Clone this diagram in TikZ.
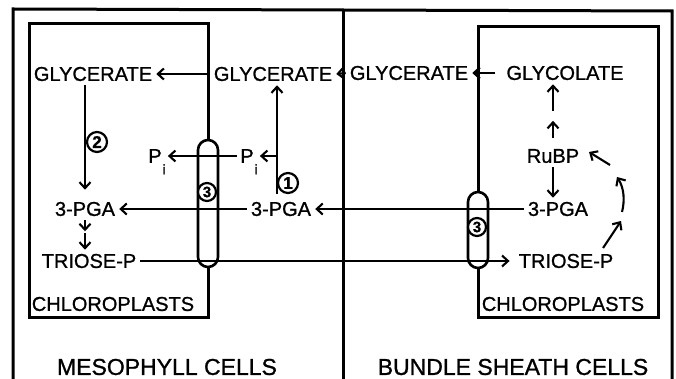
\documentclass[tikz,border=0pt]{standalone}
\usepackage{fontspec}
\setmainfont{Liberation Sans}
\newfontfamily\lett{Liberation Sans}[FakeBold=1.0]
\usetikzlibrary{arrows.meta,calc}
\begin{document}
\begin{tikzpicture}[x=1pt,y=-1pt,
  lbl/.style={font=\lett\fontsize{20}{22}\selectfont, inner sep=4pt},
  sub/.style={font=\lett\fontsize{14}{14}\selectfont, inner sep=0pt, anchor=north west},
  big/.style={font=\lett\fontsize{23}{25}\selectfont, inner sep=2pt},
  arr/.style={line width=2.1pt,-{Straight Barb[length=6pt,width=11pt,line width=2.1pt]}},
  wall/.style={line width=3pt},
  num/.style={circle, draw, line width=2.2pt, fill=white, minimum size=20pt, inner sep=0pt, font=\lett\fontsize{17}{17}\selectfont\bfseries},
  capsule/.style={draw, line width=2.6pt, rounded corners=10pt, minimum width=20pt, fill=white, inner sep=0pt}]
\useasboundingbox (0,0) rectangle (676,379);
% outer frame
\draw[wall] (13,379) -- (13,9) -- (672,11) -- (672,379);
\draw[wall] (343,379) -- (343,10);
% transporters
\node[capsule, minimum height=127pt] (capL) at (208,203.5) {};
\node[capsule, minimum height=76pt] (capR) at (478,230) {};
% chloroplasts
\draw[wall] (capL.north) -- (208,24) -- (29,24) -- (29,317) -- (208,317) -- (capL.south);
\draw[wall] (capR.north) -- (478,27) -- (658,27) -- (658,317) -- (478,317) -- (capR.south);
% texts
\node[lbl] (glyL) at (93,74) {GLYCERATE};
\node[lbl] (glyM) at (273,74) {GLYCERATE};
\node[lbl] (glyR) at (409,73) {GLYCERATE};
\node[lbl] (glycol) at (565,73) {GLYCOLATE};
\node[lbl] (rubp) at (553,156) {RuBP};
\node[lbl] (pgaR) at (558,209) {3-PGA};
\node[lbl] (trioseR) at (566,261) {TRIOSE-P};
\node[lbl] (pgaM) at (281,209) {3-PGA};
\node[lbl] (pgaL) at (85,209) {3-PGA};
\node[lbl] (trioseL) at (89,261) {TRIOSE-P};
\node[lbl, inner sep=0pt] (piL) at (155,156) {P};
\node[lbl, inner sep=0pt] (piM) at (247,156) {P};
\node[sub] (piLs) at ([xshift=0.5pt,yshift=-1pt]piL.south east) {i};
\node[sub] (piMs) at ([xshift=0.5pt,yshift=-1pt]piM.south east) {i};
\node[lbl] (chlL) at (113,304) {CHLOROPLASTS};
\node[lbl] (chlR) at (563,304) {CHLOROPLASTS};
\node[big] (meso) at (167,367) {MESOPHYLL CELLS};
\node[big] (bund) at (513,367) {BUNDLE SHEATH CELLS};
% arrows top row
\draw[arr] (glyM.west) -- (glyL.east);
\draw[arr] (glyR.west) -- (glyM.east);
\draw[arr, shorten <=7pt] (glycol.west) -- (glyR.east);
% mesophyll
\coordinate (vb) at (277,194);
\coordinate (vm) at (277,156);
\draw[arr] (vb) -- (vb |- glyM.south);
\draw[arr, shorten >=6pt] (vm) -- (piM.east);
\draw[arr, shorten >=6pt, shorten <=3pt] (piM.west) -- (piL.east);
\draw[arr] (pgaM.west) -- (pgaL.east);
\draw[arr] (pgaR.west) -- (pgaM.east);
\draw[arr, shorten >=5pt] (trioseL.east) -- (trioseR.west);
\draw[arr, shorten >=8pt] (glyL.south -| pgaL.north) -- (pgaL.north);
\draw[arr] (pgaL.south) -- ++(0,11);
\draw[arr] ($(pgaL.south)+(0,13)$) -- (trioseL.north -| pgaL.south);
% bundle sheath
\draw[arr] ($(rubp.north)+(0,-7)$) -- ++(0,-17);
\draw[arr] ($(rubp.north)+(0,-34)$) -- (glycol.south -| rubp.north);
\draw[arr] (rubp.south) -- (pgaR.north -| rubp.south);
\coordinate (k1) at (603,248);
\coordinate (k2) at (621,221);
\coordinate (k3) at (622,212);
\coordinate (k4) at (617,177);
\coordinate (k5) at (610,165);
\coordinate (k6) at (589,152);
\draw[arr] (k1) -- (k2);
\draw[arr] (k3) .. controls (625,200) and (624,188) .. (k4);
\draw[arr] (k5) -- (k6);
% numbered circles
\node[num] (n1) at (288,183) {1};
\node[num] (n2) at (97,142) {2};
\node[num, minimum size=18pt, font=\lett\fontsize{15}{15}\selectfont\bfseries] (n3L) at (207,192) {3};
\node[num, minimum size=18pt, font=\lett\fontsize{15}{15}\selectfont\bfseries] (n3R) at (477,227) {3};
\end{tikzpicture}
\end{document}
